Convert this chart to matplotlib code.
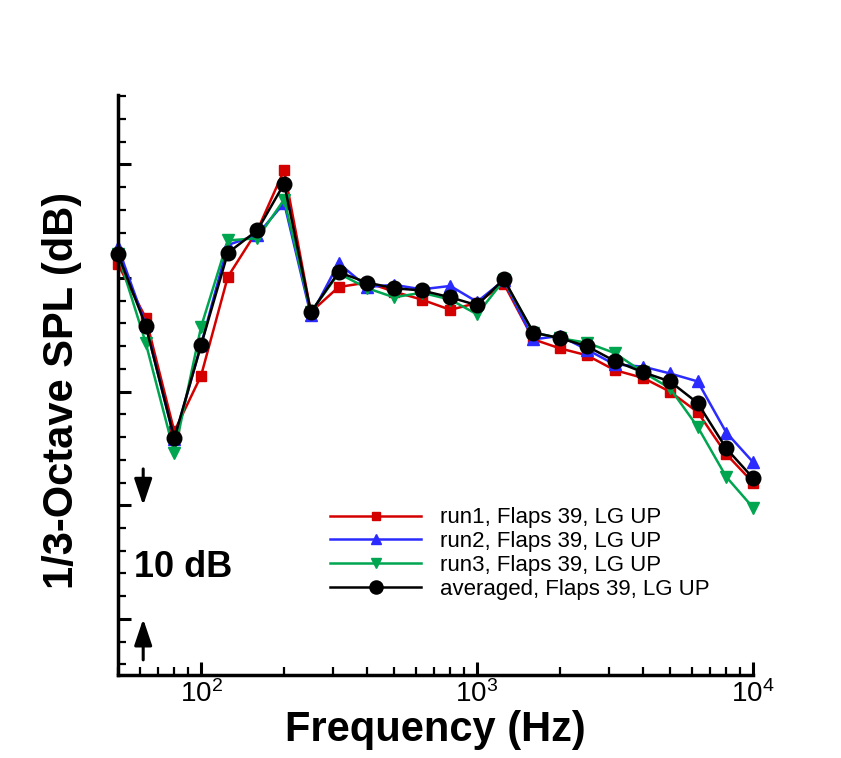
import matplotlib
matplotlib.use('Agg')
import matplotlib.pyplot as plt
from matplotlib.ticker import MultipleLocator, LogLocator, NullFormatter

plt.rcParams['font.family'] = ['Liberation Sans', 'DejaVu Sans']
plt.rcParams['mathtext.fontset'] = 'custom'
plt.rcParams['mathtext.rm'] = 'Liberation Sans'
plt.rcParams['mathtext.it'] = 'Liberation Sans:italic'
plt.rcParams['mathtext.bf'] = 'Liberation Sans:bold'

# 1/3-octave band centre frequencies (Hz)
freq = [50, 63, 80, 100, 125, 160, 200, 250, 315, 400, 500, 630, 800,
        1000, 1250, 1600, 2000, 2500, 3150, 4000, 5000, 6300, 8000, 10000]

# SPL (dB) (absolute level is arbitrary, no labels)
run1 = [91.2, 86.5, 76.5, 81.4, 90.1, 94.2, 99.5, 87.0, 89.2, 89.6, 88.8, 88.1,
        87.2, 87.8, 89.5, 84.6, 83.8, 83.2, 81.9, 81.2, 80.0, 78.2, 74.5, 72.0]
run2 = [92.7, 85.9, 75.8, 84.1, 92.9, 93.8, 96.6, 86.7, 91.3, 89.2, 89.4, 89.0,
        89.3, 87.9, 89.8, 84.6, 84.9, 83.7, 82.4, 82.2, 81.6, 80.9, 76.4, 73.8]
run3 = [92.1, 84.3, 74.6, 85.7, 93.3, 93.5, 96.9, 87.0, 90.4, 89.1, 88.3, 88.7,
        88.1, 86.8, 89.8, 85.2, 84.7, 84.3, 83.4, 81.7, 80.3, 76.9, 72.5, 69.8]
averaged = [92.1, 85.8, 75.9, 84.1, 92.2, 94.2, 98.3, 87.0, 90.5, 89.6, 89.1, 88.9,
            88.3, 87.6, 89.9, 85.2, 84.7, 84.0, 82.7, 81.7, 80.9, 79.0, 75.0, 72.4]

labels = ['run1, Flaps 39, LG UP', 'run2, Flaps 39, LG UP',
          'run3, Flaps 39, LG UP', 'averaged, Flaps 39, LG UP']

RED = '#d40000'
BLUE = '#2b2bff'
GREEN = '#00a550'

fig = plt.figure(figsize=(8.41, 7.58), dpi=100)
ax = fig.add_axes([0.1403, 0.1095, 0.7551, 0.7652])

ax.plot(freq, run1, color=RED, marker='s', ms=7, lw=1.8, label=labels[0], clip_on=False)
ax.plot(freq, run2, color=BLUE, marker='^', ms=8.5, lw=1.8, label=labels[1], clip_on=False)
ax.plot(freq, run3, color=GREEN, marker='v', ms=8.5, lw=1.8, label=labels[2], clip_on=False)
ax.plot(freq, averaged, color='black', marker='o', ms=10.5, lw=1.8, label=labels[3],
        clip_on=False)

ax.set_xscale('log')
ax.set_xlim(50, 10000)
ax.set_ylim(55.07, 106.1)

ax.yaxis.set_major_locator(MultipleLocator(10))
ax.yaxis.set_minor_locator(MultipleLocator(2))
ax.set_yticklabels([])
ax.xaxis.set_minor_locator(LogLocator(base=10, subs=range(2, 10)))
ax.xaxis.set_minor_formatter(NullFormatter())

for side in ['top', 'right']:
    ax.spines[side].set_visible(False)
for side in ['left', 'bottom']:
    ax.spines[side].set_linewidth(2.5)

ax.tick_params(which='major', direction='in', length=9.5, width=2.2,
               labelsize=20, pad=4)
ax.tick_params(which='minor', direction='in', length=5.5, width=1.6)

ax.set_xlabel('Frequency (Hz)', fontsize=30, fontweight='bold')
ax.xaxis.set_label_coords(0.5, -0.060)
ax.set_ylabel('1/3-Octave SPL (dB)', fontsize=30, fontweight='bold')
ax.yaxis.set_label_coords(-0.057, 0.49)

# 10 dB scale marker
ax.text(57.3, 63.7, '10 dB', fontsize=26, fontweight='bold',
        ha='left', va='baseline')
arrow = dict(arrowstyle='-|>,head_length=0.8,head_width=0.27',
             color='black', lw=2.2, mutation_scale=20, shrinkA=0, shrinkB=0)
ax.annotate('', xy=(61.7, 70.0), xytext=(61.7, 73.2), arrowprops=arrow)
ax.annotate('', xy=(61.7, 60.0), xytext=(61.7, 56.4), arrowprops=arrow)

ax.legend(loc='upper left', bbox_to_anchor=(0.334, 0.289), frameon=False,
          fontsize=16, handlelength=4.1, handletextpad=0.85,
          labelspacing=0.13, borderpad=0, borderaxespad=0, markerscale=0.9)

fig.savefig('out.png', dpi=100)
